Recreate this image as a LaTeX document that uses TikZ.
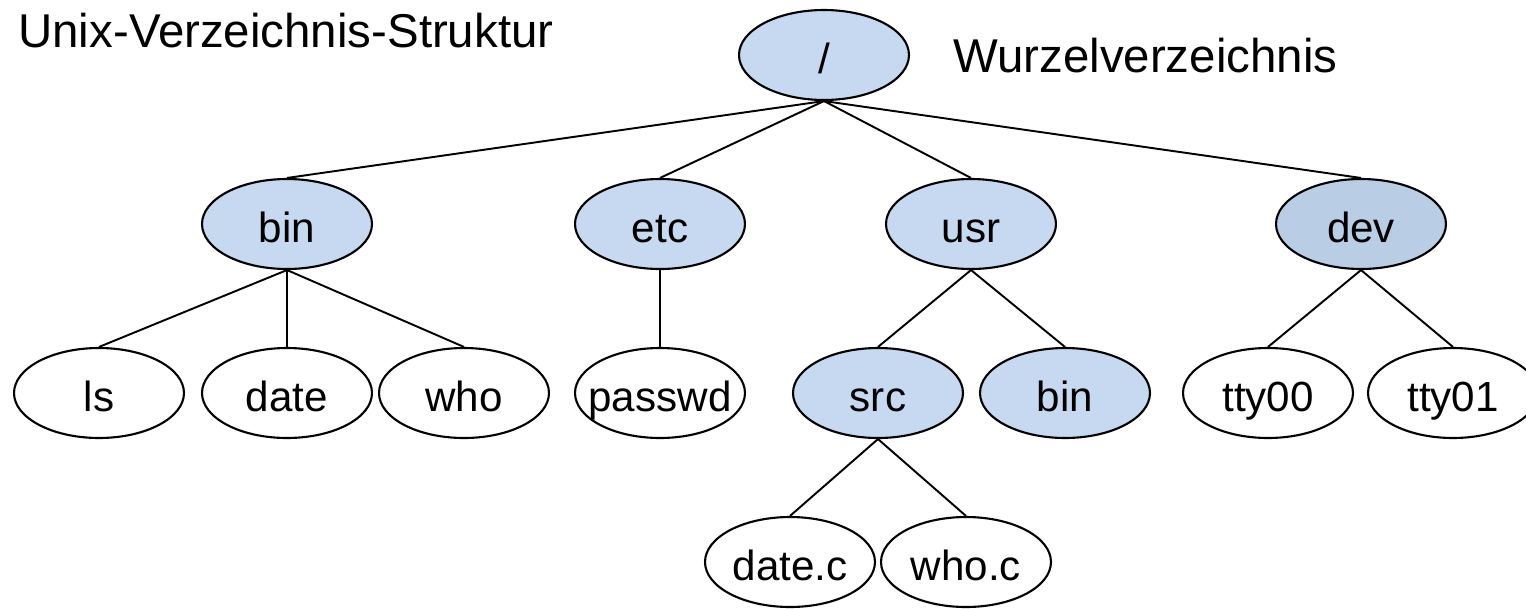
\documentclass[tikz,border=0pt]{standalone}
\usepackage{fontspec}
\setmainfont{Liberation Sans}
\usetikzlibrary{shapes.geometric}
\definecolor{dirblue}{HTML}{C6D9F0}
\definecolor{devblue}{HTML}{B9CDE5}
\begin{document}
\begin{tikzpicture}[x=0.02cm, y=-0.02cm,
  file/.style={ellipse, draw, line width=1.2pt, minimum width=3.4cm, minimum height=1.8cm,
    inner sep=0pt, font=\fontsize{24}{28}\selectfont, text height=23pt, text depth=1.4pt,
    execute at begin node={\hbox to 0pt\bgroup\hss}, execute at end node={\hss\egroup}},
  dir/.style={file, fill=dirblue},
  edge/.style={line width=1.1pt},
  title/.style={anchor=base west, inner sep=0pt, font=\fontsize{27}{32}\selectfont}]

\useasboundingbox (0,0) rectangle (1526,609);

% Drawing titles
\node[title] (heading) at (18,47) {Unix-Verzeichnis-Struktur};
\node[title] (rootnote) at (953,72) {Wurzelverzeichnis};

% Drawing directories
\node[dir] (root) at (824,55) {/};
\node[dir] (bin) at (287,224) {bin};
\node[dir] (etc) at (660,224) {etc};
\node[dir] (usr) at (971,224) {usr};
\node[dir, fill=devblue] (dev) at (1361,224) {dev};
\node[dir] (src) at (878,393) {src};
\node[dir] (usrbin) at (1065,393) {bin};

% Drawing files
\node[file] (ls) at (99,393) {ls};
\node[file] (date) at (287,393) {date};
\node[file] (who) at (464,393) {who};
\node[file] (passwd) at (660,393) {passwd};
\node[file] (ttya) at (1268,393) {tty00};
\node[file] (ttyb) at (1453,393) {tty01};
\node[file] (datec) at (790,562) {date.c};
\node[file] (whoc) at (966,562) {who.c};

% Drawing links
\foreach \kid in {bin,etc,usr,dev} \draw[edge] (root.south) -- (\kid.north);
\foreach \kid in {ls,date,who} \draw[edge] (bin.south) -- (\kid.north);
\draw[edge] (etc.south) -- (passwd.north);
\draw[edge] (usr.south) -- (src.north);
\draw[edge] (usr.south) -- (usrbin.north);
\draw[edge] (dev.south) -- (ttya.north);
\draw[edge] (dev.south) -- (ttyb.north);
\draw[edge] (src.south) -- (datec.north);
\draw[edge] (src.south) -- (whoc.north);

\end{tikzpicture}
\end{document}
